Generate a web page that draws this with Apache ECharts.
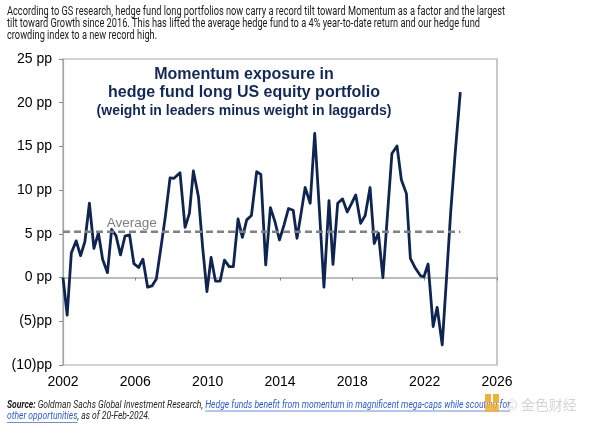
<!DOCTYPE html>
<html><head><meta charset="utf-8">
<script src="https://cdn.jsdelivr.net/npm/echarts@6/dist/echarts.min.js"></script>
<style>html,body{margin:0;padding:0;background:#fff}#c{width:600px;height:426px}</style>
</head><body><div id="c"></div>
<script>
// ---- data ----
const dates = [2002.00,2002.23,2002.46,2002.73,2002.97,2003.21,2003.46,2003.71,2003.96,2004.19,2004.46,2004.69,2004.93,2005.18,2005.43,2005.68,2005.92,2006.18,2006.42,2006.68,2006.92,2007.16,2007.42,2007.66,2007.92,2008.14,2008.47,2008.75,2008.99,2009.21,2009.49,2009.72,2009.96,2010.19,2010.43,2010.69,2010.93,2011.19,2011.42,2011.68,2011.92,2012.16,2012.42,2012.71,2012.94,2013.21,2013.47,2013.72,2013.97,2014.22,2014.47,2014.73,2014.94,2015.17,2015.39,2015.67,2015.92,2016.18,2016.43,2016.71,2016.93,2017.19,2017.46,2017.72,2017.96,2018.19,2018.46,2018.71,2018.98,2019.21,2019.44,2019.69,2019.94,2020.19,2020.47,2020.71,2020.99,2021.21,2021.49,2021.77,2021.96,2022.19,2022.47,2022.69,2022.97,2023.21,2023.44,2023.69,2023.97];
const momentum = [0.0,-4.3,2.8,4.2,2.5,4.1,8.5,3.35,5.1,2.1,0.56,5.5,4.8,2.6,4.75,4.9,1.6,1.15,2.1,-1.1,-0.96,-0.16,3.5,7.0,11.4,11.35,12.0,5.75,7.35,12.2,9.25,3.5,-1.6,2.3,-0.4,-0.4,2.0,1.25,1.25,6.7,4.6,6.6,7.1,12.1,11.8,1.45,8.0,6.4,4.3,6.0,7.9,7.7,4.5,7.4,10.3,8.5,16.5,7.7,-1.1,8.8,1.5,8.5,9.0,7.5,8.5,9.45,6.2,7.1,10.3,3.9,5.1,0.0,7.1,14.2,15.05,11.2,9.6,2.2,1.06,0.2,0.1,1.55,-5.6,-3.4,-7.7,0.0,7.5,14.3,21.2];
const averageValue = 5.25;
const averageLabel = 'Average';
const averageLabelAt = 2005.8;
const xRange = [2002, 2026];
const xStep = 4;
const yRange = [-10, 25];
const yStep = 5;
const introLines = [
  'According to GS research, hedge fund long portfolios now carry a record tilt toward Momentum as a factor and the largest',
  'tilt toward Growth since 2016. This has lifted the average hedge fund to a 4% year-to-date return and our hedge fund',
  'crowding index to a new record high.'
];
const titleLines = ['Momentum exposure in', 'hedge fund long US equity portfolio', '(weight in leaders minus weight in laggards)'];
const footerLine1 = [
  {t:'Source:', k:'b'},
  {t:' Goldman Sachs Global Investment Research, ', k:'n'},
  {t:'Hedge funds benefit from momentum in magnificent mega-caps while scouting for', k:'l'}
];
const footerLine2 = [
  {t:'other opportunities', k:'l'},
  {t:', as of 20-Feb-2024.', k:'n'}
];

// ---- helpers ----
const cv = document.createElement('canvas').getContext('2d');
function measure(text, font){ cv.font = font; return cv.measureText(text).width; }
const fonts = {
  n: {font:'italic 400 11.5px Roboto', fill:'#262626'},
  b: {font:'italic 700 11.5px Roboto', fill:'#1a1a1a'},
  l: {font:'italic 400 11.5px Roboto', fill:'#2a5bd7'}
};
function richLine(segs, x, y, scale){
  const children = [];
  let cx = 0;
  segs.forEach(s => {
    const f = fonts[s.k];
    const w = measure(s.t, f.font);
    children.push({type:'text', x:cx, y:0, style:{text:s.t, font:f.font, fill:f.fill, textVerticalAlign:'middle'}});
    if (s.k === 'l') {
      children.push({type:'line', shape:{x1:cx, y1:6, x2:cx+w, y2:6}, style:{stroke:f.fill, lineWidth:0.8}});
    }
    cx += w;
  });
  return {type:'group', x:x, y:y, scaleX:scale, children:children};
}
function lineWidth(segs){ return segs.reduce((a,s)=>a+measure(s.t, fonts[s.k].font),0); }

const introFont = '400 13px Roboto';
const introScale = 498 / measure(introLines[0], introFont);
const footScale = 503 / lineWidth(footerLine1);

const graphics = [];
introLines.forEach((t,i) => {
  graphics.push({type:'text', x:7, y:11.7 + i*12, scaleX:introScale,
    style:{text:t, font:introFont, fill:'#1a1a1a', textVerticalAlign:'middle'}});
});
const titleFonts = ['bold 16px "Liberation Sans", Arial', 'bold 16px "Liberation Sans", Arial', 'bold 14px "Liberation Sans", Arial'];
const titleY = [75, 93, 111];
titleLines.forEach((t,i) => {
  graphics.push({type:'text', x:244, y:titleY[i], z:10,
    style:{text:t, font:titleFonts[i], fill:'#12285a', textAlign:'center', textVerticalAlign:'middle'}});
});
graphics.push(richLine(footerLine1, 7, 405, footScale));
graphics.push(richLine(footerLine2, 7, 416.5, footScale));
// watermark
graphics.push({type:'rect', shape:{x:485, y:394, width:6, height:9}, style:{fill:'#f2b134'}});
graphics.push({type:'rect', shape:{x:493, y:394, width:6, height:9}, style:{fill:'#f2b134'}});
graphics.push({type:'rect', shape:{x:485, y:404, width:14, height:8}, style:{fill:'#f2b134', opacity:0.85}});
graphics.push({type:'text', x:506, y:405, style:{text:'© 金色财经', font:'14px "Noto Sans CJK SC"', fill:'#cfcfcf', textVerticalAlign:'middle', opacity:0.9}});

const pts = dates.map((d,i)=>[d, momentum[i]]);

const option = {
  animation:false,
  backgroundColor:'#fff',
  grid:{left:63, right:103, top:59, bottom:61, show:true, borderColor:'#a6a6a6', borderWidth:1.2, backgroundColor:'transparent'},
  xAxis:[
    {type:'value', min:xRange[0], max:xRange[1], interval:xStep, position:'bottom',
     axisLine:{show:false, onZero:false}, axisTick:{show:false}, splitLine:{show:false},
     axisLabel:{fontSize:14, color:'#000', margin:10, fontFamily:'"Liberation Sans", Arial', formatter:v=>String(v)}},
    {type:'value', min:xRange[0], max:xRange[1], interval:xStep, position:'top',
     axisLine:{show:true, onZero:true, lineStyle:{color:'#a6a6a6', width:1.5}},
     axisTick:{show:true, inside:true, length:3, lineStyle:{color:'#888', width:1}},
     axisLabel:{show:false}, splitLine:{show:false}}
  ],
  yAxis:{type:'value', min:yRange[0], max:yRange[1], interval:yStep,
    axisLine:{show:true, onZero:false, lineStyle:{color:'#a6a6a6', width:1.2}},
    axisTick:{show:true, length:4, lineStyle:{color:'#888'}},
    splitLine:{show:false},
    axisLabel:{fontSize:14, color:'#000', margin:11, fontFamily:'"Liberation Sans", Arial',
      formatter:v=> v<0 ? '('+(-v)+')pp' : v+' pp'}},
  series:[
    {type:'line', data:pts, symbol:'none', z:3,
     lineStyle:{color:'#0e2552', width:2.8, join:'round'}},
    {type:'line', data:[[dates[0], averageValue],[dates[dates.length-1], averageValue]], symbol:'none', z:4,
     lineStyle:{color:'#808080', width:2.5, type:[7,4]},
     markPoint:{symbol:'circle', symbolSize:1, itemStyle:{color:'rgba(0,0,0,0)'},
       data:[{coord:[averageLabelAt, averageValue]}],
       label:{show:true, position:'top', distance:1, formatter:averageLabel, color:'#7f7f7f', fontSize:13.5, fontFamily:'"Liberation Sans", Arial'}}}
  ],
  graphic: graphics
};
const chart = echarts.init(document.getElementById('c'));
chart.setOption(option);
</script>
</body></html>
